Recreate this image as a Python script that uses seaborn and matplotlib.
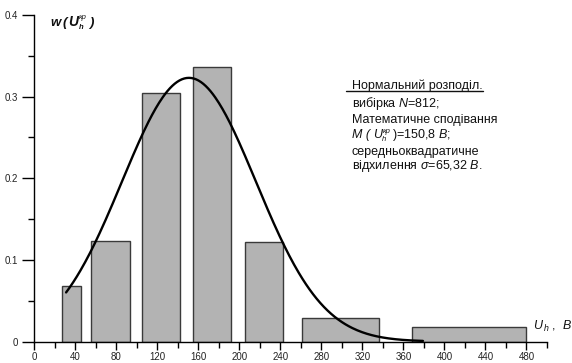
import numpy as np
import pandas as pd
import matplotlib
matplotlib.use("Agg")
import matplotlib.pyplot as plt
from matplotlib.lines import Line2D
from matplotlib.ticker import MultipleLocator, FixedLocator, FixedFormatter
import seaborn as sns

# Histogram of measured voltages: class bounds and relative frequencies
bin_left = [27, 55, 105.5, 155, 205, 261, 368]
bin_right = [46, 93, 142.5, 192, 243, 336, 480]
rel_freq = [0.068, 0.1235, 0.305, 0.336, 0.1225, 0.0294, 0.018]

# Fitted normal law
sample_size = 812
mean_u = 150.8
sigma_u = 65.32
curve_peak = 0.323
curve_from, curve_to = 31, 379

x_ticks = [0, 40, 80, 120, 160, 200, 240, 280, 320, 360, 400, 440, 480]
x_tick_labels = [str(v) for v in x_ticks]
y_ticks = [0, 0.1, 0.2, 0.3, 0.4]
y_tick_labels = ["0", "0.1", "0.2", "0.3", "0.4"]

sns.set_theme(style="ticks")
plt.rcParams["font.family"] = ["Liberation Sans", "DejaVu Sans"]
plt.rcParams["mathtext.fontset"] = "custom"
plt.rcParams["mathtext.rm"] = "Liberation Sans"
plt.rcParams["mathtext.it"] = "Liberation Sans:italic"
plt.rcParams["mathtext.bf"] = "Liberation Sans:bold"

W, H = 572, 363
fig = plt.figure(figsize=(W / 100, H / 100), dpi=100)
ax = fig.add_axes([34.3 / W, 1 - 341.5 / H, (547 - 34.3) / W, (341.5 - 15) / H])

bars = pd.DataFrame({"left": bin_left, "right": bin_right, "freq": rel_freq})
ax.bar(bars["left"], bars["freq"], width=bars["right"] - bars["left"], align="edge",
       color="#b3b3b3", edgecolor="#3a3a3a", linewidth=1.0, zorder=2)

xs = np.linspace(curve_from, curve_to, 300)
curve = pd.DataFrame({"u": xs,
                      "w": curve_peak * np.exp(-(xs - mean_u) ** 2 / (2 * sigma_u ** 2))})
sns.lineplot(data=curve, x="u", y="w", ax=ax, color="black", linewidth=1.7, zorder=3)

ax.set_xlim(0, 500)
ax.set_ylim(0, 0.4)
ax.set_xlabel("")
ax.set_ylabel("")
for side in ("top", "right"):
    ax.spines[side].set_visible(False)
for side in ("left", "bottom"):
    ax.spines[side].set_linewidth(1.0)
    ax.spines[side].set_color("black")

ax.xaxis.set_major_locator(FixedLocator(x_ticks))
ax.xaxis.set_major_formatter(FixedFormatter(x_tick_labels))
ax.xaxis.set_minor_locator(MultipleLocator(20))
ax.yaxis.set_major_locator(FixedLocator(y_ticks))
ax.yaxis.set_major_formatter(FixedFormatter(y_tick_labels))
ax.yaxis.set_minor_locator(MultipleLocator(0.05))
ax.tick_params(axis="x", which="major", length=6, width=1, pad=1.5,
               labelsize=7, labelcolor="#222222", color="black")
ax.tick_params(axis="x", which="minor", length=4, width=1, color="black")
ax.tick_params(axis="y", which="major", length=9, width=1, pad=3,
               labelsize=7, labelcolor="#222222", color="black")
ax.tick_params(axis="y", which="minor", length=4, width=1, color="black")

fig.canvas.draw()
r = fig.canvas.get_renderer()


def put(x_px, base_px, s, size=9, **kw):
    return fig.text(x_px / W, 1 - base_px / H, s, fontsize=size,
                    ha="left", va="baseline", color="#111111", **kw)


def right_of(t, gap=0.0):
    return t.get_window_extent(r).x1 + gap


# Ordinate caption w(U_h^кр), built from pieces
p = put(50.7, 25.7, "w", size=9.5, style="italic", weight="bold")
p = put(right_of(p, 1.5), 25.7, "(", size=9.5, style="italic", weight="bold")
p = put(right_of(p, 1.5), 25.7, "U", size=10, style="italic", weight="bold")
xu = right_of(p, 0.5)
put(xu, 28.8, "h", size=5.5, style="italic", weight="bold")
p = put(xu + 0.5, 19.0, "кр", size=5.5, style="italic")
put(right_of(p, 2), 25.7, ")", size=9.5, style="italic", weight="bold")

# Abscissa caption
ax.text(486, 0.018, r"$U_{\,h}$ ,  $B$", fontsize=9, ha="left", va="center",
        color="#111111", clip_on=False)

# Annotation block
t1 = put(351.7, 88.5, "Нормальний розподіл.")
put(351.7, 106.7, f"вибірка $N$={sample_size};")
put(351.7, 123.3, "Математичне сподівання")

# expectation line assembled from pieces so the indices sit low
p = put(351.7, 137.7, "M (", style="italic")
p = put(right_of(p, 3), 137.7, "U", style="italic")
xu = right_of(p, 0.5)
put(xu, 140.5, "h", size=5.5, style="italic")
p = put(xu + 1, 133.0, "кр", size=5.5, style="italic")
put(right_of(p, 1), 137.7, ")=" + f"{mean_u}".replace(".", ",") + r" $B$;")

put(351.7, 154.7, "середньоквадратичне")
put(351.7, 169.3, r"відхилення $\sigma$=" + f"{sigma_u}".replace(".", ",") + r" $B$.")

bb = t1.get_window_extent(r)
fig.add_artist(Line2D([346 / W, (bb.x1 + 1) / W], [1 - 90.5 / H, 1 - 90.5 / H],
                      transform=fig.transFigure, color="#111111", linewidth=1.0))

fig.savefig("out.png", dpi=100)
